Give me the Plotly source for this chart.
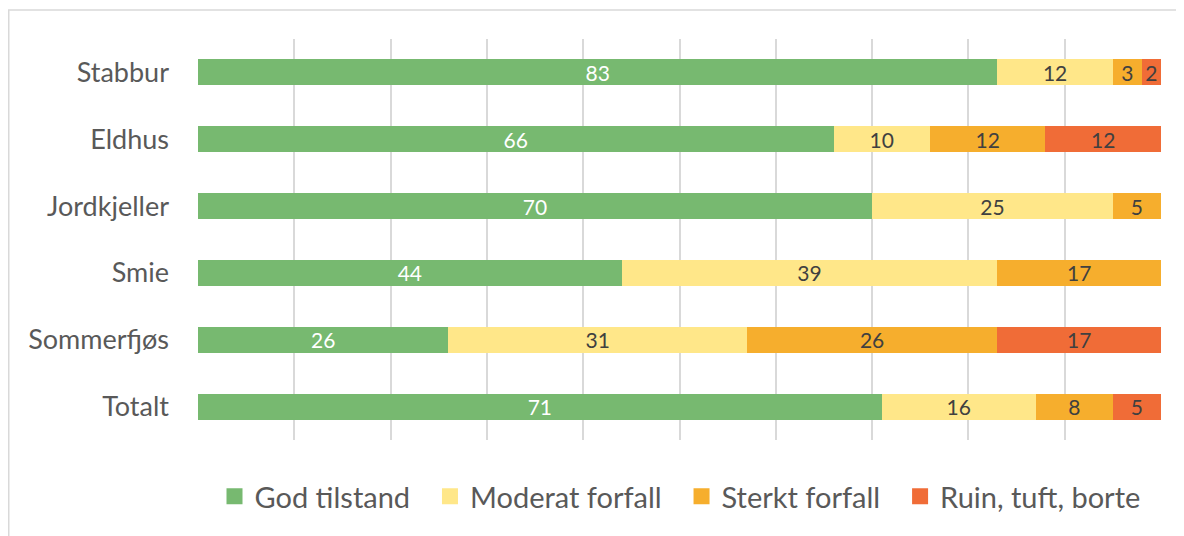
import plotly.graph_objects as go

categories = ["Stabbur", "Eldhus", "Jordkjeller", "Smie", "Sommerfjøs", "Totalt"]
series_names = ["God tilstand", "Moderat forfall", "Sterkt forfall", "Ruin, tuft, borte"]
god = [83, 66, 70, 44, 26, 71]
moderat = [12, 10, 25, 39, 31, 16]
sterkt = [3, 12, 5, 17, 26, 8]
ruin = [2, 12, None, None, 17, 5]

colors = ["#77B970", "#FFE789", "#F6AE2D", "#F06C37"]
label_colors = ["#FFFFFF", "#404040", "#404040", "#404040"]
FONT = "Lato, Calibri, sans-serif"

fig = go.Figure()
for name, vals, col, lc in zip(series_names, [god, moderat, sterkt, ruin], colors, label_colors):
    fig.add_trace(go.Bar(
        y=categories, x=vals, name=name, orientation="h",
        marker=dict(color=col, line=dict(width=0)),
        text=[("" if v is None else str(v)) for v in vals],
        textposition="inside", insidetextanchor="middle", textangle=0,
        constraintext="none",
        textfont=dict(family=FONT, size=21, color=lc),
        hoverinfo="skip", showlegend=False, legendgroup=name,
    ))

# legend entries with larger square swatches
for i, (name, col) in enumerate(zip(series_names, colors)):
    label = name + ("\u00a0\u00a0" if i < len(series_names) - 1 else "")
    fig.add_trace(go.Scatter(
        x=[None], y=[None], mode="markers", name=label, legendgroup=name,
        marker=dict(symbol="square", size=16, color=col, line=dict(width=0)),
        hoverinfo="skip", showlegend=True,
    ))

# page has an 8px body margin; figure coords = page coords - 8
OFF = 8
W, H = 1176, 528
L, R, T, B = 198 - OFF, 23, 38.5 - OFF, 95.5
pw = W - L - R
ph = H - T - B

def px_x(x):  # page x -> paper
    return (x - OFF - L) / pw

def px_y(y):  # page y -> paper
    return (H - B - (y - OFF)) / ph

fig.update_layout(
    barmode="stack",
    width=W, height=H,
    margin=dict(l=L, r=R, t=T, b=B),
    bargap=0.61,
    plot_bgcolor="white", paper_bgcolor="white",
    font=dict(family=FONT, color="#595959"),
    showlegend=True,
    legend=dict(orientation="h", x=px_x(680), xanchor="center", y=px_y(497), yanchor="middle",
                font=dict(family=FONT, size=29, color="#595959"), traceorder="normal",
                itemwidth=30),
    xaxis=dict(range=[0, 100], dtick=10, showgrid=True, gridcolor="#D9D9D9", gridwidth=1.5,
               showticklabels=False, zeroline=False, showline=False, fixedrange=True),
    yaxis=dict(autorange="reversed", showgrid=False, showline=False, zeroline=False,
               tickfont=dict(family=FONT, size=27, color="#595959"), ticklabelstandoff=28),
    shapes=[
        dict(type="line", xref="paper", yref="paper", x0=px_x(8), x1=px_x(1200), y0=px_y(9.5), y1=px_y(9.5),
             line=dict(color="#D9D9D9", width=1.5)),
        dict(type="line", xref="paper", yref="paper", x0=px_x(8.75), x1=px_x(8.75), y0=px_y(9.5), y1=px_y(560),
             line=dict(color="#D9D9D9", width=1.5)),
    ],
)

fig.write_html("out.html")
